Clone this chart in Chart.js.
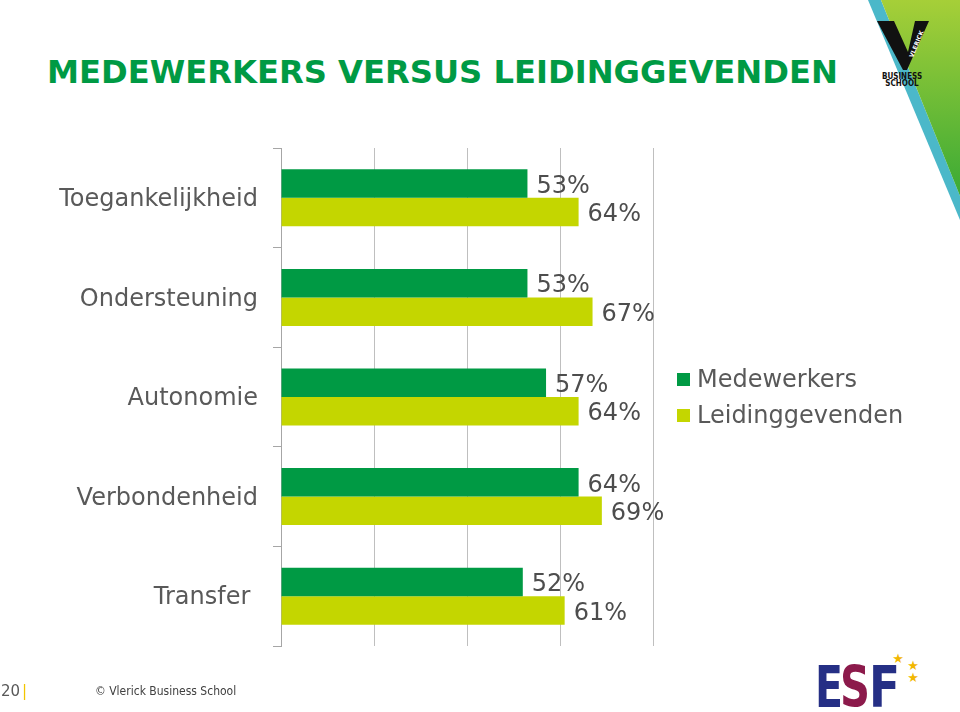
<!DOCTYPE html>
<html>
<head>
<meta charset="utf-8">
<script src="https://cdn.jsdelivr.net/npm/chart.js@4"></script>
<style>
  html, body { margin: 0; padding: 0; background: #fff; }
  body { width: 960px; height: 712px; position: relative; overflow: hidden; font-family: "DejaVu Sans", Verdana, sans-serif; }
  #chart { position: absolute; left: 0; top: 0; }
  .title { position: absolute; left: 47px; top: 56px; font-size: 32.2px; line-height: 1; font-weight: bold; color: #009a44; white-space: nowrap; }
  .legend-item { position: absolute; left: 677px; font-size: 24px; color: #595959; white-space: nowrap; }
  .legend-item span { display: inline-block; width: 13px; height: 13px; margin-right: 7px; vertical-align: 1px; }
  .footer { position: absolute; top: 682px; font-size: 15px; color: #595959; }
  .copy { position: absolute; left: 95px; top: 684px; font-size: 12px; font-family: "DejaVu Sans Condensed", sans-serif; color: #404040; }
  svg { position: absolute; left: 0; top: 0; }
</style>
</head>
<body>
<svg width="960" height="712">
  <defs>
    <linearGradient id="gr" x1="0" y1="0" x2="0" y2="1">
      <stop offset="0" stop-color="#a6cf38"/>
      <stop offset="1" stop-color="#3aaa35"/>
    </linearGradient>
  </defs>
  <polygon points="868,0 881,0 960,196 960,220" fill="#4bb8c9"/>
  <polygon points="881,0 960,0 960,196" fill="url(#gr)"/>
  <polygon points="877,21 894,21 908,52 915,21 929,21 907,70 903,70" fill="#111"/>
  <text x="0" y="0" transform="translate(913,58) rotate(-68)" font-size="6" font-weight="bold" fill="#fff" font-family="DejaVu Sans">VLERICK</text>
  <text x="902" y="79" font-size="8" font-weight="bold" text-anchor="middle" font-family="DejaVu Sans Condensed" fill="#111">BUSINESS</text>
  <text x="902" y="86" font-size="8" font-weight="bold" text-anchor="middle" font-family="DejaVu Sans Condensed" fill="#111">SCHOOL</text>
  <text x="815" y="707" font-size="57" font-weight="900" font-family="DejaVu Sans Condensed" fill="#252f85" textLength="28" lengthAdjust="spacingAndGlyphs">E</text>
  <text x="840" y="707" font-size="57" font-weight="900" font-family="DejaVu Sans Condensed" fill="#8c1a4b" textLength="30" lengthAdjust="spacingAndGlyphs">S</text>
  <text x="869" y="707" font-size="57" font-weight="900" font-family="DejaVu Sans Condensed" fill="#252f85" textLength="31" lengthAdjust="spacingAndGlyphs">F</text>
  <text x="898" y="663" font-size="13" text-anchor="middle" fill="#f2b700">★</text>
  <text x="913" y="670" font-size="13" text-anchor="middle" fill="#f2b700">★</text>
  <text x="913" y="682" font-size="13" text-anchor="middle" fill="#f2b700">★</text>
</svg>
<div class="title">MEDEWERKERS VERSUS LEIDINGGEVENDEN</div>
<canvas id="chart" width="960" height="712"></canvas>
<div id="legend"></div>
<div class="footer" style="left:1px">20</div>
<div class="footer" style="left:22px;color:#f2c500">|</div>
<div class="copy">© Vlerick Business School</div>
<script>
// data
const categories = ["Toegankelijkheid", "Ondersteuning", "Autonomie", "Verbondenheid", "Transfer "];
const seriesNames = ["Medewerkers", "Leidinggevenden"];
const medewerkers = [53, 53, 57, 64, 52];
const leidinggevenden = [64, 67, 64, 69, 61];
const colors = ["#009a44", "#c4d600"];

// labels at the end of each bar
const barLabels = {
        id: "barLabels",
        afterDatasetsDraw(chart) {
                const ctx = chart.ctx;
                ctx.save();
                ctx.font = "24px 'DejaVu Sans'";
                ctx.fillStyle = "#4d4d4d";
                ctx.textBaseline = "middle";
                chart.data.datasets.forEach((ds, i) => {
                        chart.getDatasetMeta(i).data.forEach((bar, j) => {
                                ctx.fillText(ds.data[j] + "%", bar.x + 9, bar.y + 3);
                        });
                });
                ctx.restore();
        }
};

const data = {
        labels: categories,
        datasets: [
                { label: seriesNames[0], data: medewerkers, backgroundColor: colors[0] },
                { label: seriesNames[1], data: leidinggevenden, backgroundColor: colors[1] }
        ]
};

const config = {
        type: "bar",
        data: data,
        options: {
                indexAxis: "y",
                responsive: false,
                animation: false,
                categoryPercentage: 0.572,
                barPercentage: 1,
                layout: { padding: { top: 148, bottom: 66, left: 0, right: 307 } },
                plugins: { legend: { display: false }, tooltip: { enabled: false } },
                scales: {
                        x: {
                                min: 0, max: 80,
                                ticks: { display: false, stepSize: 20 },
                                grid: { color: "#bfbfbf", drawTicks: false },
                                border: { display: false }
                        },
                        y: {
                                afterFit(scale) { scale.width = 281; },
                                ticks: { color: "#595959", font: { family: "DejaVu Sans", size: 24 }, padding: 15, labelOffset: 2 },
                                grid: { drawOnChartArea: false, tickLength: 8, color: "#a6a6a6" },
                                border: { color: "#a6a6a6" }
                        }
                }
        },
        plugins: [barLabels]
};

new Chart(document.getElementById("chart").getContext("2d"), config);

// legend on the right
const legend = document.getElementById("legend");
seriesNames.forEach((name, i) => {
        const item = document.createElement("div");
        item.className = "legend-item";
        item.style.top = (365 + i * 36) + "px";
        item.innerHTML = '<span style="background:' + colors[i] + '"></span>' + name;
        legend.appendChild(item);
});
</script>
</body>
</html>
